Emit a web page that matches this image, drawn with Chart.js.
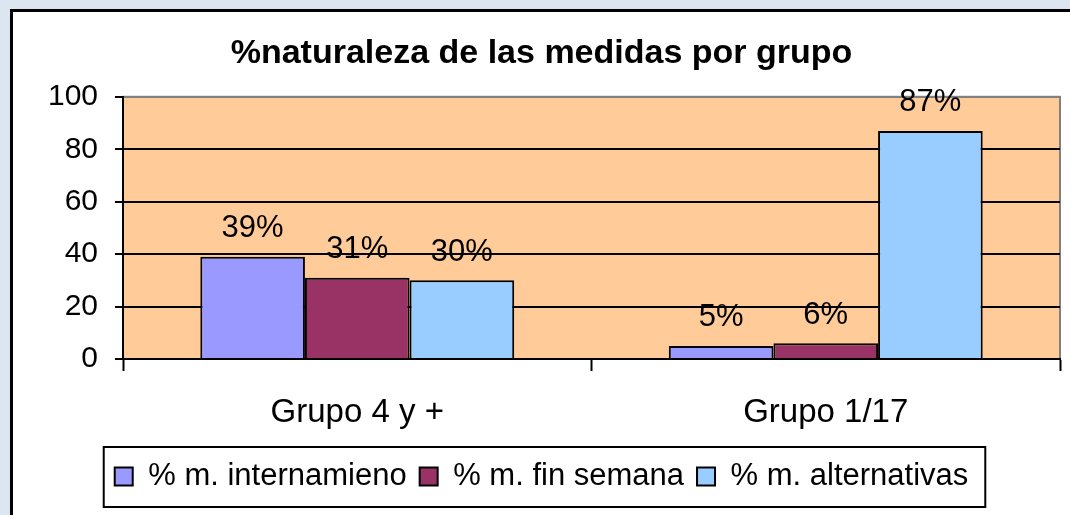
<!DOCTYPE html>
<html>
<head>
<meta charset="utf-8">
<script src="https://cdn.jsdelivr.net/npm/chart.js@4/dist/chart.umd.min.js"></script>
<style>
  html, body { margin: 0; padding: 0; background: #dce6f0; }
  canvas { display: block; }
</style>
</head>
<body>
<canvas id="grafico" width="1070" height="515"></canvas>
<script>
const grupos = ["Grupo 4 y +", "Grupo 1/17"];
const internamiento = [39, 5];
const finSemana = [31, 6];
const alternativas = [30, 87];
const nombresSeries = ["% m. internamieno", "% m. fin semana", "% m. alternativas"];
const ticksY = [0, 20, 40, 60, 80, 100];

const FUENTE = "'Liberation Sans', Arial, sans-serif";

// fondo, tarjeta blanca y area de trazado naranja
const fondo = {
    id: "fondo",
    beforeDraw(chart) {
        const { ctx, chartArea: a } = chart;
        ctx.save();
        ctx.fillStyle = "#dce6f0";
        ctx.fillRect(0, 0, chart.width, chart.height);
        ctx.fillStyle = "#ffffff";
        ctx.fillRect(11, 10, chart.width, chart.height);
        ctx.strokeStyle = "#000";
        ctx.lineWidth = 3;
        ctx.strokeRect(11.5, 10.5, chart.width + 20, chart.height + 20);
        ctx.fillStyle = "#ffcc99";
        ctx.fillRect(a.left, a.top, a.right - a.left, a.bottom - a.top);
        ctx.strokeStyle = "#808080";
        ctx.lineWidth = 2;
        ctx.strokeRect(a.left, a.top, a.right - a.left, a.bottom - a.top);
        ctx.restore();
    }
};

// etiquetas de porcentaje sobre las barras y marco de la leyenda
const etiquetas = {
    id: "etiquetas",
    afterDatasetsDraw(chart) {
        const { ctx } = chart;
        ctx.save();
        ctx.font = "31px " + FUENTE;
        ctx.fillStyle = "#000";
        ctx.textAlign = "center";
        ctx.textBaseline = "middle";
        chart.data.datasets.forEach((ds, i) => {
            chart.getDatasetMeta(i).data.forEach((bar, j) => {
                ctx.fillText(ds.data[j] + "%", bar.x, bar.y - 28);
            });
        });
        ctx.restore();
    },
    afterDraw(chart) {
        const cajas = chart.legend.legendHitBoxes;
        if (!cajas || !cajas.length) return;
        const izq = Math.min(...cajas.map(c => c.left)) - 11;
        const der = Math.max(...cajas.map(c => c.left + c.width)) + 17;
        const arr = Math.min(...cajas.map(c => c.top)) - 14;
        const aba = Math.max(...cajas.map(c => c.top + c.height)) + 15;
        const { ctx } = chart;
        ctx.save();
        ctx.strokeStyle = "#000";
        ctx.lineWidth = 2;
        ctx.strokeRect(izq, arr, der - izq, aba - arr);
        ctx.restore();
    }
};

new Chart(document.getElementById("grafico").getContext("2d"), {
    type: "bar",
    data: {
        labels: grupos,
        datasets: [
            { label: nombresSeries[0], data: internamiento, backgroundColor: "#9999ff" },
            { label: nombresSeries[1], data: finSemana, backgroundColor: "#993366" },
            { label: nombresSeries[2], data: alternativas, backgroundColor: "#99ccff" }
        ].map(d => Object.assign(d, { borderColor: "#000", borderWidth: 2, categoryPercentage: 0.67, barPercentage: 1 }))
    },
    options: {
        responsive: false,
        animation: false,
        layout: { padding: { left: 23, right: 10, top: 0, bottom: 13 } },
        scales: {
            x: {
                afterFit(scale) { scale.height = 89; },
                grid: { offset: true, drawOnChartArea: false, tickLength: 12, tickColor: "#000", tickWidth: 2 },
                border: { color: "#000", width: 2 },
                ticks: { color: "#000", font: { family: FUENTE, size: 33 }, padding: 22 }
            },
            y: {
                min: 0, max: 100,
                afterFit(scale) { scale.width = 100; },
                afterBuildTicks(scale) { scale.ticks = ticksY.map(v => ({ value: v })); },
                grid: {
                    color: c => (c.tick && c.tick.value === 100 ? "#808080" : "#000"),
                    lineWidth: 2, tickLength: 8, tickColor: "#000", tickWidth: 2
                },
                border: { color: "#000", width: 2 },
                ticks: { color: "#000", font: { family: FUENTE, size: 30 }, padding: 17 }
            }
        },
        plugins: {
            title: {
                display: true,
                text: "%naturaleza de las medidas por grupo",
                color: "#000",
                font: { family: FUENTE, size: 34, weight: "bold" },
                padding: { top: 33, bottom: 23 }
            },
            legend: {
                position: "bottom",
                labels: {
                    color: "#000",
                    font: { family: FUENTE, size: 31 },
                    boxWidth: 18, boxHeight: 18, padding: 13,
                    generateLabels(chart) {
                        return chart.data.datasets.map((d, i) => ({
                            text: d.label, fillStyle: d.backgroundColor, strokeStyle: "#000",
                            lineWidth: 2, fontColor: "#000", datasetIndex: i, hidden: false
                        }));
                    }
                }
            },
            tooltip: { enabled: false }
        }
    },
    plugins: [fondo, etiquetas]
});
</script>
</body>
</html>
